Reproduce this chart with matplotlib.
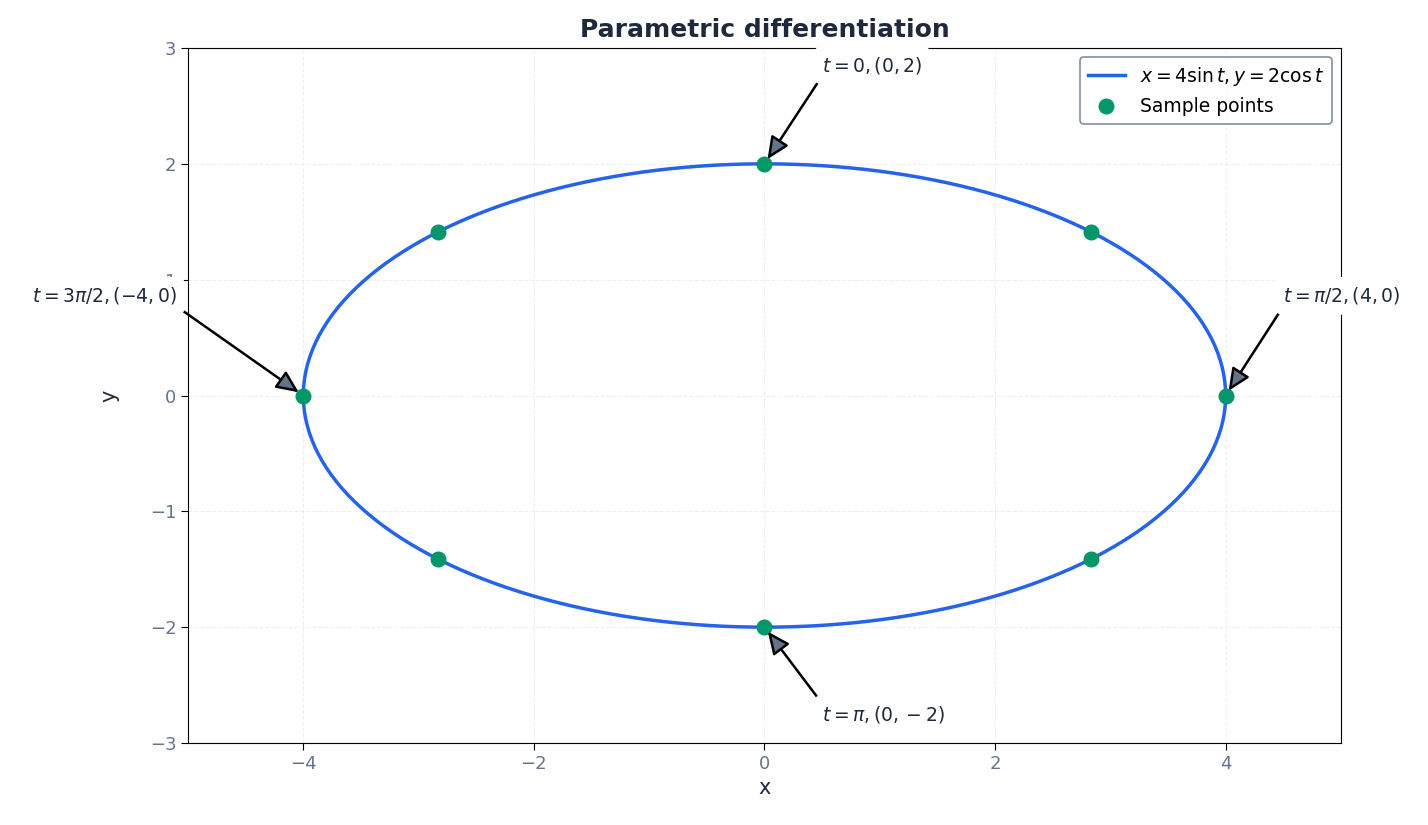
import numpy as np
import matplotlib
matplotlib.use("Agg")
import matplotlib.pyplot as plt

t_curve = np.linspace(0, 2*np.pi, 400)
sample_t = [0, np.pi/4, np.pi/2, 3*np.pi/4, np.pi, 5*np.pi/4, 3*np.pi/2, 7*np.pi/4]
labels = [r"$t=0,(0,2)$", r"$t=\pi/2,(4,0)$", r"$t=\pi,(0,-2)$", r"$t=3\pi/2,(-4,0)$"]
label_pts = [(0, 2), (4, 0), (0, -2), (-4, 0)]
label_txt = [(0.5, 2.85), (4.5, 0.86), (0.5, -2.75), (-5.1, 0.86)]
label_ha = ["left", "left", "left", "right"]
label_rel = [(0, 0), (0, 0), (0, 1), (1, 0)]

fig = plt.figure(figsize=(14.28, 8.25), dpi=100)
ax = fig.add_axes([0.1317, 0.0994, 0.8073, 0.8424])
ax.plot(4*np.sin(t_curve), 2*np.cos(t_curve), color="#2563eb", lw=2.5,
        label=r"$x=4\sin t, y=2\cos t$")
st = np.array(sample_t)
ax.plot(4*np.sin(st), 2*np.cos(st), "o", color="#059669", ms=10.5, ls="none",
        label="Sample points", zorder=3)
for lab, p, tx, ha, rp in zip(labels, label_pts, label_txt, label_ha, label_rel):
    ax.annotate(lab, xy=p, xytext=tx, ha=ha, va="center", fontsize=13.5, color="#1e293b",
                bbox=dict(boxstyle="round,pad=0.45", fc="white", ec="none"),
                arrowprops=dict(arrowstyle="-|>,head_length=1.0,head_width=0.45",
                                fc="#64748b", ec="black", lw=1.8, shrinkA=0, shrinkB=4,
                                relpos=rp),
                zorder=4)
ax.set_xlim(-5, 5)
ax.set_ylim(-3, 3)
ax.set_xticks([-4, -2, 0, 2, 4])
ax.set_title("Parametric differentiation", fontsize=18, fontweight="bold", color="#1e293b", pad=8)
ax.set_xlabel("x", fontsize=15, color="#1e293b")
ax.set_ylabel("y", fontsize=15, color="#1e293b", labelpad=22)
ax.tick_params(labelsize=13, labelcolor="#64748b", length=5)
ax.grid(True, ls="--", color="#e5e7eb", lw=0.8, alpha=0.6)
leg = ax.legend(loc="upper right", fontsize=13.5, frameon=True, fancybox=True)
leg.get_frame().set_edgecolor("#64748b")
leg.get_frame().set_linewidth(1.2)
fig.savefig("out.png", dpi=100)
